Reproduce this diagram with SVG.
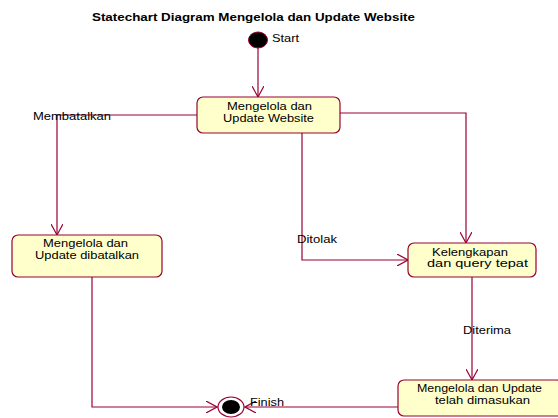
<svg xmlns="http://www.w3.org/2000/svg" width="558" height="418" viewBox="0 0 558 418">
<style>
.st{fill:#FFFFCC;stroke:#990033;stroke-width:1.2}
.t{font-family:"Liberation Sans",Arial,sans-serif;font-size:11px;fill:#000}
.c{fill:none;stroke:#990033;stroke-width:1.2}
</style>
<defs>
<marker id="a" viewBox="0 0 12 12" refX="11" refY="6" markerWidth="12" markerHeight="12" markerUnits="userSpaceOnUse" orient="auto">
<path d="M0,0 L11,6 L0,12" fill="none" stroke="#990033" stroke-width="1.2"/>
</marker>
</defs>
<rect width="558" height="418" fill="#fff"/>
<text x="92" y="21" textLength="323" lengthAdjust="spacingAndGlyphs" font-family="'Liberation Sans',Arial,sans-serif" font-size="11.5" font-weight="bold">Statechart Diagram Mengelola dan Update Website</text>
<g id="connectors">
<path class="c" d="M258,48 V97" marker-end="url(#a)"/>
<path class="c" d="M197,115 H57 V235" marker-end="url(#a)"/>
<path class="c" d="M302,133 V260 H408" marker-end="url(#a)"/>
<path class="c" d="M340,113 H466 V243" marker-end="url(#a)"/>
<path class="c" d="M472,277 V380" marker-end="url(#a)"/>
<path class="c" d="M92,277 V407 H217" marker-end="url(#a)"/>
<path class="c" d="M398,407 H245" marker-end="url(#a)"/>
<text class="t" x="33" y="120" textLength="78" lengthAdjust="spacingAndGlyphs">Membatalkan</text>
<text class="t" x="297" y="243" textLength="40" lengthAdjust="spacingAndGlyphs">Ditolak</text>
<text class="t" x="463" y="334" textLength="48" lengthAdjust="spacingAndGlyphs">Diterima</text>
</g>
<g id="start">
<ellipse cx="258" cy="40" rx="9.5" ry="8" fill="#000" stroke="#990033" stroke-width="1"/>
<text class="t" x="272" y="42" textLength="27" lengthAdjust="spacingAndGlyphs">Start</text>
</g>
<g id="node1">
<rect class="st" x="197" y="97" width="143" height="36" rx="6"/>
<text class="t" x="227" y="110" textLength="85" lengthAdjust="spacingAndGlyphs">Mengelola dan</text>
<text class="t" x="223" y="122" textLength="91" lengthAdjust="spacingAndGlyphs">Update Website</text>
</g>
<g id="node2">
<rect class="st" x="12" y="235" width="150" height="42" rx="6"/>
<text class="t" x="43" y="247" textLength="85" lengthAdjust="spacingAndGlyphs">Mengelola dan</text>
<text class="t" x="35" y="259" textLength="104" lengthAdjust="spacingAndGlyphs">Update dibatalkan</text>
</g>
<g id="node3">
<rect class="st" x="408" y="243" width="128" height="34" rx="6"/>
<text class="t" x="432" y="256" textLength="76" lengthAdjust="spacingAndGlyphs">Kelengkapan</text>
<text class="t" x="427" y="267" textLength="101" lengthAdjust="spacingAndGlyphs">dan query  tepat</text>
</g>
<g id="node4">
<rect class="st" x="398" y="380" width="165" height="36" rx="6"/>
<text class="t" x="417" y="392" textLength="125" lengthAdjust="spacingAndGlyphs">Mengelola dan Update</text>
<text class="t" x="435" y="404" textLength="95" lengthAdjust="spacingAndGlyphs">telah dimasukan</text>
</g>
<g id="finish">
<ellipse cx="231" cy="407" rx="13" ry="10" fill="#fff" stroke="#990033" stroke-width="1.2"/>
<ellipse cx="231" cy="407" rx="9" ry="7" fill="#000"/>
<text class="t" x="250" y="406" textLength="34" lengthAdjust="spacingAndGlyphs">Finish</text>
</g>
</svg>
